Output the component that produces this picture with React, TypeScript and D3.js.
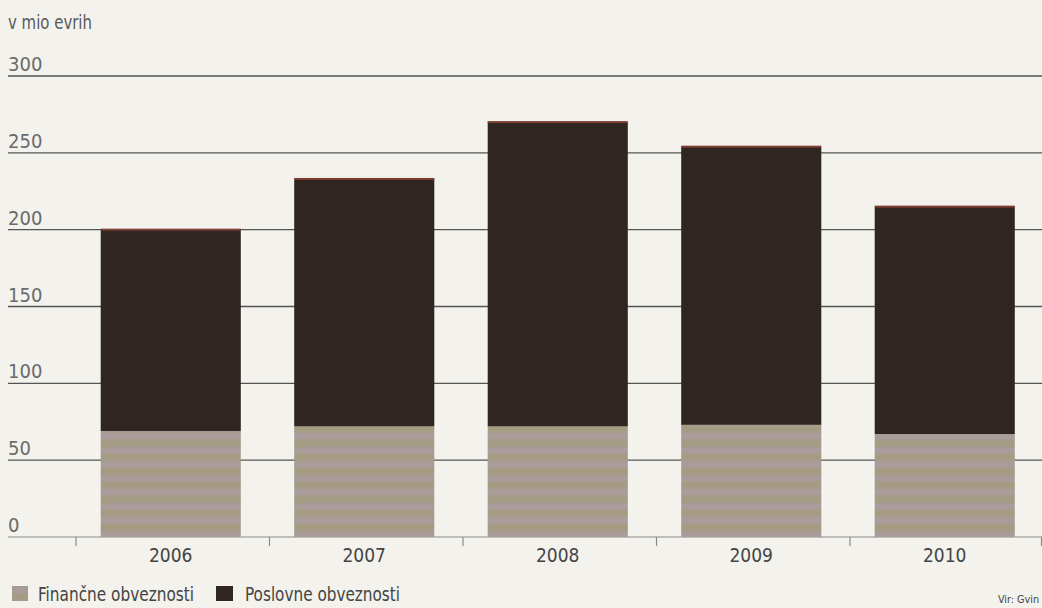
import React, { useEffect } from 'react';
import * as d3 from 'd3';

const years = ['2006', '2007', '2008', '2009', '2010'];
const financne = [69, 72, 72, 73, 67];
const poslovne = [131, 161, 198, 181, 148];
const yTicks = [0, 50, 100, 150, 200, 250, 300];
const unitLabel = 'v mio evrih';
const legendLabels = ['Finančne obveznosti', 'Poslovne obveznosti'];
const sourceLabel = 'Vir: Gvin';

const W = 1042;
const H = 608;
const FONT = "'DejaVu Sans Condensed', 'Liberation Sans Narrow', sans-serif";
const BG = '#f3f2ed';
const C_FIN = '#a69c8d';
const C_POS = '#2f2521';

export default function App() {
  useEffect(() => {
    document.body.style.margin = '0';
    document.body.style.overflow = 'hidden';
  }, []);

  const x = d3.scaleBand<string>().domain(years).range([74, 1041.5]).paddingInner(0.276).paddingOuter(0.138);
  const y = d3.scaleLinear().domain([0, 300]).range([537, 76]);
  const stack = years.map((yr, i) => ({ yr, fin: financne[i], pos: poslovne[i] }));
  const step = x.step();
  const gap = step - x.bandwidth();
  const tickXs = [...years.map((yr) => (x(yr) as number) - gap / 2 + 2), (x(years[years.length - 1]) as number) + x.bandwidth() + gap / 2];

  return (
    <svg width={W} height={H} style={{ position: 'absolute', left: 0, top: 0, background: BG }}>
      <defs>
        <pattern id="finPat" width="8" height="14" patternUnits="userSpaceOnUse">
          <rect width="8" height="14" fill={C_FIN} />
          <rect y="0" width="8" height="5" fill="#aa9ca6" opacity="0.55" />
          <rect y="7" width="8" height="4" fill="#a39a74" opacity="0.5" />
        </pattern>
      </defs>
      <rect width={W} height={H} fill={BG} />
      <text x={8} y={29} fontFamily={FONT} fontSize={19} fill="#5a5a5a" textLength={84} lengthAdjust="spacingAndGlyphs">{unitLabel}</text>
      {yTicks.map((t) => (
        <g key={t}>
          <line x1={8} x2={W} y1={y(t)} y2={y(t)} stroke={t === 0 ? '#8a8a8a' : '#555'} strokeWidth={t === 0 ? 1.2 : 1.3} />
          <text x={8} y={y(t) - 5} fontFamily={FONT} fontSize={20} fill="#6a6a6a">{t}</text>
        </g>
      ))}
      {stack.map((d) => {
        const bx = x(d.yr) as number;
        const bw = x.bandwidth();
        const yFinTop = y(d.fin);
        const yPosTop = y(d.fin + d.pos);
        return (
          <g key={d.yr}>
            <rect x={bx} y={yFinTop} width={bw} height={y(0) - yFinTop} fill="url(#finPat)" />
            <rect x={bx} y={yPosTop} width={bw} height={yFinTop - yPosTop} fill={C_POS} />
            <rect x={bx} y={yPosTop - 1} width={bw} height={2} fill="#7d3e34" />
          </g>
        );
      })}
      {tickXs.map((tx, i) => (
        <line key={i} x1={tx} x2={tx} y1={537} y2={546} stroke="#8a8a8a" strokeWidth={1.2} />
      ))}
      {years.map((yr) => (
        <text key={yr} x={(x(yr) as number) + x.bandwidth() / 2} y={562} textAnchor="middle" fontFamily={FONT} fontSize={19} fill="#444">{yr}</text>
      ))}
      <rect x={12} y={586} width={16} height={15} fill="url(#finPat)" />
      <text x={38} y={601} fontFamily={FONT} fontSize={19} fill="#444" textLength={156} lengthAdjust="spacingAndGlyphs">{legendLabels[0]}</text>
      <rect x={216} y={586} width={17} height={15} fill={C_POS} />
      <text x={245} y={601} fontFamily={FONT} fontSize={19} fill="#444" textLength={155} lengthAdjust="spacingAndGlyphs">{legendLabels[1]}</text>
      <text x={998} y={603} fontFamily={FONT} fontSize={11} fill="#444" textLength={41} lengthAdjust="spacingAndGlyphs">{sourceLabel}</text>
    </svg>
  );
}
